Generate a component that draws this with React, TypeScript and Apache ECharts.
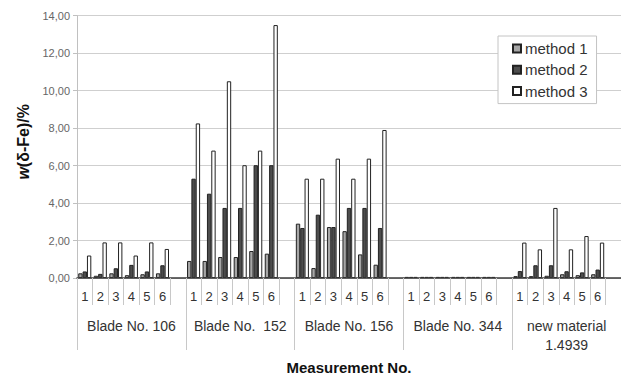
import React, { useEffect, useRef } from "react";
import * as echarts from "echarts";

const blades = ["Blade No. 106", "Blade No.  152", "Blade No. 156", "Blade No. 344", "new material\n1.4939"];
const measurements = ["1", "2", "3", "4", "5", "6"];
const seriesNames = ["method 1", "method 2", "method 3"];

const method1 = [
  0.25, 0.12, 0.25, 0.15, 0.2, 0.25,
  0.91, 0.91, 1.12, 1.12, 1.44, 1.3,
  2.9, 0.53, 2.72, 2.5, 1.26, 0.71,
  0.06, 0.06, 0.06, 0.06, 0.06, 0.06,
  0.1, 0.1, 0.12, 0.2, 0.15, 0.2,
];
const method2 = [
  0.35, 0.22, 0.52, 0.7, 0.35, 0.68,
  5.3, 4.5, 3.74, 3.74, 6.02, 6.02,
  2.67, 3.38, 2.72, 3.74, 3.74, 2.67,
  0.06, 0.06, 0.06, 0.06, 0.06, 0.06,
  0.37, 0.68, 0.68, 0.36, 0.3, 0.45,
];
const method3 = [
  1.2, 1.9, 1.9, 1.2, 1.9, 1.55,
  8.25, 6.8, 10.5, 6.02, 6.8, 13.5,
  5.3, 5.3, 6.37, 5.3, 6.37, 7.9,
  0.06, 0.06, 0.06, 0.06, 0.06, 0.06,
  1.89, 1.53, 3.74, 1.53, 2.24, 1.89,
];

const fills = ["#a6a6a6", "#4d4d4d", "#ffffff"];

function expand(values: number[]): (number | null)[] {
  const out: (number | null)[] = [];
  blades.forEach((_, b) => {
    measurements.forEach((_, m) => out.push(values[b * measurements.length + m]));
    out.push(null);
  });
  return out;
}

const slotLabels: string[] = [];
blades.forEach(() => {
  measurements.forEach((m) => slotLabels.push(m));
  slotLabels.push("");
});

export default function App() {
  const ref = useRef<HTMLDivElement>(null);
  useEffect(() => {
    if (!ref.current) return;
    const chart = echarts.init(ref.current, undefined, { renderer: "svg" });
    const font = "'Liberation Sans', Arial, sans-serif";
    chart.setOption({
      animation: false,
      textStyle: { fontFamily: font },
      grid: { left: 77, right: 0, top: 15.7, bottom: 99, containLabel: false, outerBoundsMode: "none" },
      legend: {
        orient: "vertical",
        left: 498,
        top: 36,
        padding: [5, 9, 5, 14],
        itemGap: 6.3,
        itemWidth: 8,
        itemHeight: 8,
        icon: "rect",
        backgroundColor: "#ffffff",
        borderColor: "#c4c4c4",
        borderWidth: 1,
        borderRadius: 0,
        textStyle: { fontSize: 15, lineHeight: 15, color: "#333", fontFamily: font, padding: [0, 0, 0, -1] },
        data: seriesNames,
      },
      xAxis: [
        {
          type: "category",
          data: slotLabels,
          position: "bottom",
          boundaryGap: true,
          axisLine: { show: true, lineStyle: { color: "#3a3a3a", width: 1.5 } },
          axisTick: { show: true, interval: 0, length: 27, lineStyle: { color: "#c8c8c8" } },
          axisLabel: { interval: 0, margin: 12, fontSize: 13, color: "#333", fontFamily: font },
          splitLine: { show: false },
          z: 5,
        },
        {
          type: "category",
          data: blades,
          position: "bottom",
          boundaryGap: true,
          axisLine: { show: false },
          axisTick: { show: true, interval: 0, length: 72, lineStyle: { color: "#c8c8c8" } },
          axisLabel: { interval: 0, margin: 38, fontSize: 14, lineHeight: 19, color: "#333", fontFamily: font },
          name: "Measurement No.",
          nameLocation: "middle",
          nameGap: 82,
          nameTextStyle: { fontSize: 15, fontWeight: "bold", color: "#111", fontFamily: font },
        },
      ],
      yAxis: {
        type: "value",
        min: 0,
        max: 14,
        interval: 2,
        axisLine: { show: true, lineStyle: { color: "#c0c0c0" } },
        axisTick: { show: true, length: 4, lineStyle: { color: "#c0c0c0" } },
        axisLabel: {
          fontSize: 11,
          color: "#666",
          margin: 7,
          fontFamily: font,
          formatter: (v: number) => v.toFixed(2).replace(".", ","),
        },
        splitLine: { show: true, lineStyle: { color: "#cfcfcf", width: 1 } },
        name: "{i|w}(δ-Fe)/%",
        nameLocation: "middle",
        nameRotate: 90,
        nameGap: 46,
        nameTextStyle: {
          fontSize: 16,
          fontWeight: "bold",
          color: "#111",
          fontFamily: font,
          padding: [0, 0, 0, 10],
          rich: { i: { fontSize: 16, fontWeight: "bold", fontStyle: "italic", color: "#111", fontFamily: font } },
        },
      },
      series: [method1, method2, method3].map((vals, i) => ({
        name: seriesNames[i],
        type: "bar",
        xAxisIndex: 0,
        data: expand(vals),
        barGap: "0%",
        barCategoryGap: "16%",
        itemStyle: { color: fills[i], borderColor: "#222", borderWidth: 1 },
      })),
    });
    return () => chart.dispose();
  }, []);
  return (
    <div
      ref={ref}
      style={{ position: "fixed", left: 0, top: 0, width: 621, height: 377, background: "#fff" }}
    />
  );
}
